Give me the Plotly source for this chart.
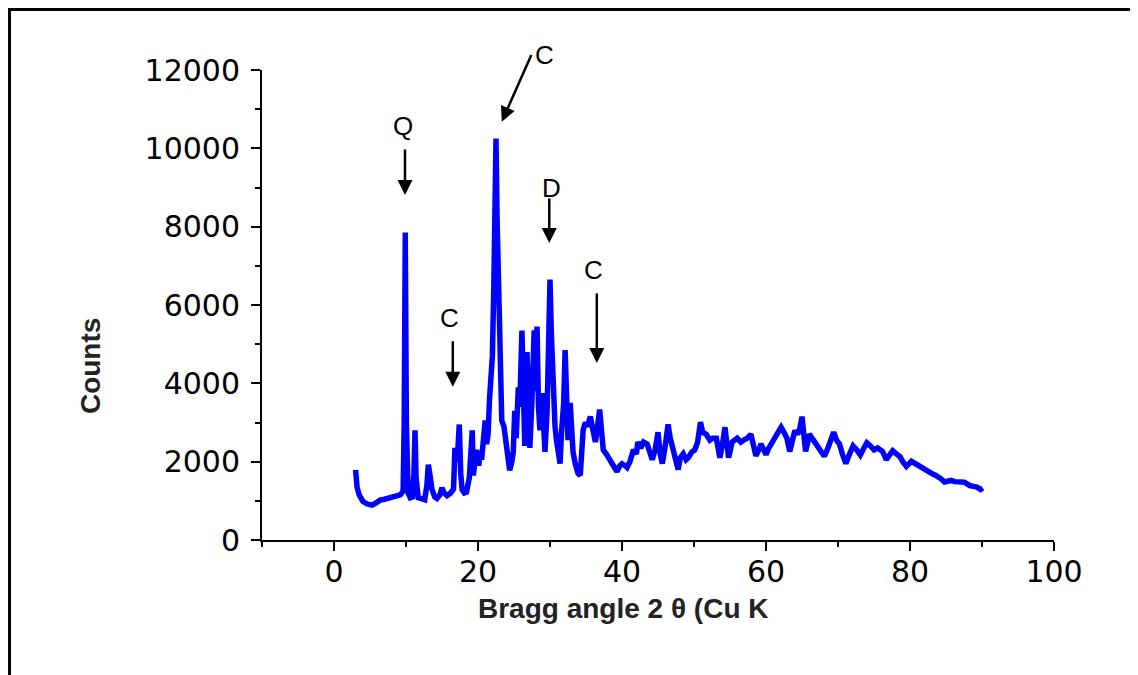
import plotly.graph_objects as go

# Diffraction pattern (2θ in degrees, counts)
two_theta = [
    3.0, 3.2, 3.5, 4.0, 4.6, 5.3, 5.9, 6.4, 7.0, 7.8, 8.5, 9.2, 9.6, 9.75, 9.9, 10.05, 10.3, 10.6, 10.9,
    11.1, 11.25, 11.4, 11.7, 12.2, 12.6, 12.9, 13.1, 13.3, 13.6, 14.0, 14.3, 14.7, 15.0, 15.3, 15.7,
    16.2, 16.6, 16.8, 17.0, 17.2, 17.4, 17.6, 17.8, 18.1, 18.4, 18.8, 19.0, 19.2, 19.35, 19.6, 19.8,
    20.1, 20.3, 20.5, 20.8, 21.0, 21.2, 21.4, 21.6, 21.8, 22.0, 22.2, 22.35, 22.5, 22.65, 22.8, 22.95,
    23.1, 23.3, 23.6, 23.9, 24.2, 24.4, 24.7, 24.9, 25.1, 25.3, 25.6, 25.8, 26.1, 26.3, 26.5, 26.8,
    27.0, 27.2, 27.5, 27.8, 28.0, 28.2, 28.4, 28.6, 28.9, 29.1, 29.3, 29.6, 29.8, 30.0, 30.2, 30.5,
    30.7, 30.9, 31.2, 31.4, 31.6, 31.9, 32.1, 32.3, 32.5, 32.8, 33.0, 33.2, 33.5, 33.9, 34.2, 34.6,
    34.9, 35.2, 35.6, 35.9, 36.3, 36.6, 36.9, 37.2, 37.4, 37.8, 38.1, 38.5, 38.8, 39.3, 39.7, 40.0,
    40.4, 40.7, 41.1, 41.6, 42.0, 42.2, 42.6, 43.0, 43.5, 43.8, 44.2, 44.6, 45.0, 45.3, 45.6, 46.0,
    46.4, 46.7, 47.1, 47.5, 47.8, 48.1, 48.5, 48.9, 49.2, 49.7, 50.1, 50.5, 50.9, 51.2, 51.7, 52.2,
    52.6, 53.1, 53.6, 54.0, 54.3, 54.8, 55.3, 56.0, 56.5, 56.9, 57.4, 57.9, 58.3, 58.6, 59.0, 59.3,
    59.7, 60.0, 60.4, 60.7, 61.1, 61.4, 61.8, 62.1, 62.5, 62.9, 63.3, 63.7, 64.0, 64.4, 64.7, 65.0,
    65.3, 65.5, 65.8, 66.0, 66.4, 66.9, 67.4, 67.8, 68.1, 68.5, 68.8, 69.1, 69.4, 69.8, 70.2, 70.6,
    71.1, 71.5, 72.1, 72.6, 73.1, 73.6, 74.0, 74.5, 75.0, 75.5, 76.2, 76.7, 77.2, 77.6, 78.1, 78.6,
    79.0, 79.5, 80.2, 80.7, 81.2, 81.7, 82.1, 82.6, 83.1, 83.6, 84.0, 84.4, 84.8, 85.3, 85.7, 86.2,
    86.7, 87.2, 87.6, 88.0, 88.3, 88.8, 89.3, 89.8, 90.1,
]
counts = [
    1790, 1350, 1150, 990, 920, 890, 950, 1020, 1040, 1070, 1100, 1150, 1250, 3000, 7850, 3000, 1200, 1080, 1100,
    1700, 2800, 1600, 1080, 1050, 1030, 1400, 1920, 1700, 1300, 1100, 1060, 1150, 1330, 1200, 1130,
    1200, 1300, 2350, 2000, 2300, 2950, 1700, 1280, 1200, 1220, 1600, 2200, 2800, 1650, 2000, 2300,
    1900, 2200, 2050, 2500, 3050, 2450, 2700, 3600, 4300, 4700, 6500, 9500, 10250, 8200, 6800, 6500,
    3800, 3050, 2900, 2400, 2000, 1780, 2000, 2250, 3300, 2600, 3900, 3400, 5350, 3500, 2400, 4800,
    3300, 2350, 3600, 5350, 3800, 5450, 3400, 2800, 3750, 2900, 2250, 3300, 4800, 6650, 5200, 3500,
    2900, 2550, 2100, 1950, 2750, 3500, 4850, 3300, 2550, 3500, 2800, 2250, 1950, 1700, 1650, 2800,
    3000, 2900, 3150, 2800, 2500, 2900, 3330, 2700, 2300, 2200, 2100, 1950, 1850, 1750, 1900, 1950,
    1900, 1850, 2000, 2300, 2200, 2500, 2350, 2500, 2450, 2250, 2050, 2300, 2750, 2200, 1950, 2400,
    2950, 2600, 2300, 2000, 1800, 2100, 2200, 2050, 2100, 2250, 2300, 2500, 3010, 2750, 2700, 2550,
    2600, 2600, 2100, 2500, 2880, 2100, 2500, 2600, 2500, 2550, 2600, 2700, 2400, 2150, 2300, 2450,
    2300, 2180, 2350, 2450, 2550, 2620, 2750, 2880, 2750, 2600, 2260, 2500, 2790, 2700, 2850, 3150,
    2600, 2260, 2500, 2700, 2600, 2450, 2350, 2200, 2140, 2300, 2450, 2500, 2750, 2550, 2450, 2200,
    1950, 2150, 2400, 2300, 2170, 2350, 2480, 2400, 2300, 2350, 2260, 2050, 2200, 2280, 2200, 2130,
    2000, 1880, 2010, 1950, 1880, 1850, 1780, 1750, 1690, 1650, 1610, 1550, 1480, 1500, 1520, 1490,
    1470, 1480, 1470, 1420, 1390, 1370, 1350, 1290, 1330,
]

# Phase markers: label, label position, arrow tail, arrow head (data coordinates)
marker_labels = ["Q", "C", "D", "C", "C"]
label_x = [9.6, 29.3, 30.2, 16.1, 36.0]
label_y = [10570, 12380, 8990, 5670, 6890]
tail_x = [9.86, 27.5, 29.9, 16.5, 36.5]
tail_y = [10010, 12420, 8760, 5110, 6330]
head_x = [9.86, 23.3, 29.9, 16.5, 36.5]
head_y = [8810, 10680, 7580, 3910, 4520]

x_title = "Bragg angle 2 θ (Cu K"
y_title = "Counts"

X_RANGE = [-10, 100]
Y_RANGE = [0, 12000]

fig = go.Figure()
fig.add_trace(go.Scatter(
    x=two_theta, y=counts, mode="lines",
    line=dict(color="#0000FF", width=5.5),
    showlegend=False, hoverinfo="skip",
))

def to_paper(v, rng):
    return (v - rng[0]) / (rng[1] - rng[0])

annotations = []
for lab, lx, ly, tx, ty, hx, hy in zip(marker_labels, label_x, label_y, tail_x, tail_y, head_x, head_y):
    annotations.append(dict(
        x=hx, y=hy, ax=tx, ay=ty, xref="x", yref="y", axref="x", ayref="y",
        text="", showarrow=True, arrowhead=2, arrowsize=1.2, arrowwidth=2.5,
        arrowcolor="black", standoff=0,
    ))
    # label in paper coordinates so it also shows above the y range
    annotations.append(dict(
        x=to_paper(lx, X_RANGE), y=to_paper(ly, Y_RANGE), xref="paper", yref="paper",
        text=lab, showarrow=False,
        font=dict(family="Liberation Sans, Arial", size=26, color="black"),
        xanchor="center", yanchor="middle",
    ))

title_font = dict(family="Liberation Sans, Arial", size=28, color="#222222")
annotations.append(dict(
    x=-0.2172, y=0.370, xref="paper", yref="paper", text=f"<b>{y_title}</b>", showarrow=False,
    textangle=-90, font=title_font, xanchor="center", yanchor="middle",
))
annotations.append(dict(
    x=0.457, y=-0.1468, xref="paper", yref="paper", text=f"<b>{x_title}</b>", showarrow=False,
    font=title_font, xanchor="center", yanchor="middle",
))

tick_font = dict(family="DejaVu Sans", size=30, color="black")

fig.update_layout(
    width=1130, height=667,
    margin=dict(l=254, r=84, t=62, b=135),
    paper_bgcolor="white", plot_bgcolor="white",
    annotations=annotations,
    shapes=[dict(
        type="rect", xref="paper", yref="paper",
        x0=-0.3188, x1=1.25, y0=-0.45, y1=1.1287,
        line=dict(color="black", width=3), fillcolor="rgba(0,0,0,0)", layer="above",
    )],
    xaxis=dict(
        range=X_RANGE, tick0=0, dtick=20, showgrid=False, zeroline=False,
        showline=True, linecolor="black", linewidth=2,
        ticks="outside", ticklen=9, tickwidth=2, tickcolor="black",
        tickfont=tick_font, ticklabelstandoff=-5, tickformat="d",
        minor=dict(dtick=10, tick0=0, ticks="outside", ticklen=5, tickwidth=2, tickcolor="black"),
    ),
    yaxis=dict(
        range=Y_RANGE, tick0=0, dtick=2000, showgrid=False, zeroline=False,
        showline=True, linecolor="black", linewidth=2,
        ticks="outside", ticklen=9, tickwidth=2, tickcolor="black",
        tickfont=tick_font, ticklabelstandoff=5, tickformat="d",
        minor=dict(dtick=1000, tick0=0, ticks="outside", ticklen=5, tickwidth=2, tickcolor="black"),
    ),
)

fig.write_html("out.html")
